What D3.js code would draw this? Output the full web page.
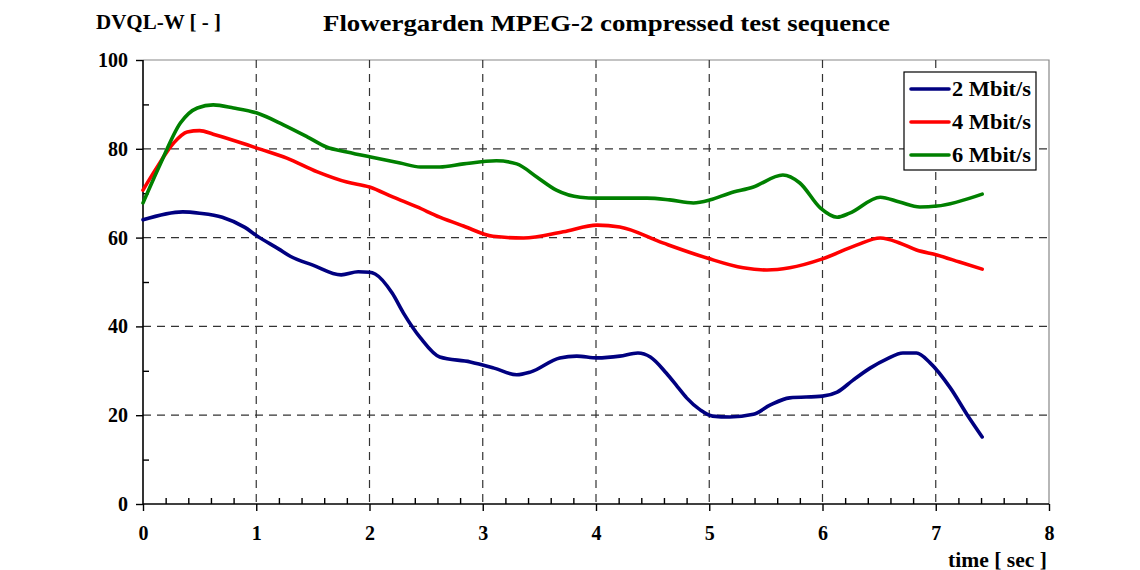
<!DOCTYPE html>
<html>
<head>
<meta charset="utf-8">
<script src="https://cdn.jsdelivr.net/npm/d3@7"></script>
<style>
  body { margin: 0; background: #fff; }
  text { font-family: "Liberation Serif", serif; font-weight: bold; fill: #000; }
</style>
</head>
<body>
<svg id="chart" width="1140" height="570"></svg>
<script>
// values
const tBlue = [0, 0.35, 0.5, 0.7, 0.9, 1.0, 1.2, 1.3, 1.5, 1.75, 1.9, 2.0, 2.05, 2.2, 2.3, 2.45, 2.62, 2.89, 3.1, 3.3, 3.42, 3.68, 3.83, 4.01, 4.21, 4.37, 4.48, 4.62, 4.72, 4.8, 4.92, 5.03, 5.18, 5.39, 5.54, 5.71, 6.0, 6.13, 6.27, 6.42, 6.57, 6.71, 6.83, 6.95, 7.13, 7.28, 7.41];
const blue = [64.0, 65.8, 65.5, 64.6, 62.3, 60.5, 57.4, 55.8, 53.8, 51.6, 52.3, 52.2, 51.8, 47.5, 43.0, 37.4, 33.1, 32.0, 30.6, 29.1, 29.7, 32.9, 33.3, 32.9, 33.3, 34.0, 33.1, 29.5, 26.4, 23.9, 21.2, 19.8, 19.6, 20.2, 22.3, 23.9, 24.3, 25.2, 27.9, 30.6, 32.7, 34.0, 34.0, 31.8, 26.1, 20.0, 15.1];

const tRed = [0, 0.12, 0.27, 0.39, 0.5, 0.62, 0.92, 1.0, 1.27, 1.54, 1.8, 2.0, 2.21, 2.42, 2.62, 2.83, 3.09, 3.36, 3.71, 4.01, 4.21, 4.59, 4.98, 5.3, 5.51, 5.71, 6.0, 6.3, 6.51, 6.68, 6.83, 7.01, 7.21, 7.41];
const red = [70.7, 75.7, 81.3, 83.8, 84.1, 83.3, 80.9, 80.2, 77.9, 74.8, 72.5, 71.4, 69.1, 66.9, 64.6, 62.6, 60.3, 59.9, 61.3, 62.8, 62.4, 58.8, 55.4, 53.2, 52.7, 53.2, 55.2, 58.3, 59.9, 58.8, 57.2, 56.1, 54.5, 52.9];

const tGreen = [0, 0.15, 0.33, 0.48, 0.62, 0.8, 1.0, 1.24, 1.45, 1.62, 1.8, 2.0, 2.27, 2.45, 2.62, 2.83, 3.12, 3.3, 3.48, 3.65, 3.86, 4.01, 4.45, 4.65, 4.86, 5.01, 5.18, 5.39, 5.65, 5.8, 5.98, 6.13, 6.24, 6.51, 6.68, 6.86, 7.01, 7.41];
const green = [67.8, 76.4, 85.8, 89.2, 89.9, 89.2, 88.1, 85.4, 82.7, 80.4, 79.3, 78.2, 76.8, 75.9, 75.9, 76.6, 77.3, 76.6, 73.6, 70.7, 69.1, 68.9, 68.9, 68.5, 67.8, 68.5, 70.0, 71.4, 74.1, 72.3, 66.7, 64.6, 65.5, 69.1, 68.0, 66.9, 67.1, 69.8];

const seriesNames = ["2 Mbit/s", "4 Mbit/s", "6 Mbit/s"];
const seriesColors = ["#000080", "#ff0000", "#008000"];
const xTicks = [0, 1, 2, 3, 4, 5, 6, 7, 8];
const yTicks = [0, 20, 40, 60, 80, 100];

const series = [
    { name: seriesNames[0], color: seriesColors[0], pts: tBlue.map((t, i) => [t, blue[i]]) },
    { name: seriesNames[1], color: seriesColors[1], pts: tRed.map((t, i) => [t, red[i]]) },
    { name: seriesNames[2], color: seriesColors[2], pts: tGreen.map((t, i) => [t, green[i]]) }
];

const svg = d3.select('#chart');
const x = d3.scaleLinear().domain([0, 8]).range([143, 1049]);
const y = d3.scaleLinear().domain([0, 100]).range([504, 60]);

// frame (top and right, grey)
svg.append('path')
    .attr('d', `M${x(0)},${y(100)}H${x(8)}V${y(0)}`)
    .attr('fill', 'none').attr('stroke', '#888').attr('stroke-width', 1.2);

// dashed grid
const grid = svg.append('g').attr('stroke', '#333').attr('stroke-width', 1.2).attr('stroke-dasharray', '8,6');
grid.selectAll('.gx').data(xTicks.filter(d => d > 0 && d < 8)).enter().append('line')
    .attr('x1', d => x(d)).attr('x2', d => x(d)).attr('y1', y(100)).attr('y2', y(0));
grid.selectAll('.gy').data(yTicks.filter(d => d > 0 && d < 100)).enter().append('line')
    .attr('x1', x(0)).attr('x2', x(8)).attr('y1', d => y(d)).attr('y2', d => y(d));

// x axis: major ticks down, minor ticks up
const xAxis = svg.append('g').attr('transform', `translate(0,${y(0)})`)
    .call(d3.axisBottom(x).tickValues(xTicks).tickSize(7).tickPadding(15).tickFormat(d3.format('d')));
xAxis.select('.domain').attr('stroke-width', 1.6).attr('d', `M${x(0)},0H${x(8)}`);
xAxis.selectAll('.tick line').attr('stroke-width', 1.4);
xAxis.selectAll('text').style('font-size', '20px').attr('font-family', null);
svg.append('g').attr('transform', `translate(0,${y(0)})`)
    .call(d3.axisTop(x).tickValues(d3.range(1, 40).map(i => i / 5).filter(v => Math.abs(v - Math.round(v)) > 0.01)).tickSize(6).tickFormat(''))
    .call(g => g.select('.domain').remove())
    .selectAll('line').attr('stroke-width', 1.4);

// y axis: major ticks left, minor ticks right
const yAxis = svg.append('g').attr('transform', `translate(${x(0)},0)`)
    .call(d3.axisLeft(y).tickValues(yTicks).tickSize(7).tickPadding(8));
yAxis.select('.domain').attr('stroke-width', 1.6).attr('d', `M0,${y(100)}V${y(0)}`);
yAxis.selectAll('.tick line').attr('stroke-width', 1.4);
yAxis.selectAll('text').style('font-size', '20px').attr('font-family', null);
svg.append('g').attr('transform', `translate(${x(0)},0)`)
    .call(d3.axisRight(y).tickValues([10, 30, 50, 70, 90]).tickSize(6).tickFormat(''))
    .call(g => g.select('.domain').remove())
    .selectAll('line').attr('stroke-width', 1.4);

// curves
const line = d3.line().x(d => x(d[0])).y(d => y(d[1])).curve(d3.curveMonotoneX);
svg.selectAll('.series').data(series).enter().append('path')
    .attr('d', d => line(d.pts))
    .attr('fill', 'none')
    .attr('stroke', d => d.color)
    .attr('stroke-width', 3.6)
    .attr('stroke-linejoin', 'round')
    .attr('stroke-linecap', 'round');

// legend
const lg = svg.append('g').attr('transform', 'translate(904,72)');
lg.append('rect').attr('width', 132).attr('height', 98)
    .attr('fill', '#fff').attr('stroke', '#000').attr('stroke-width', 1.2);
const item = lg.selectAll('.item').data(series).enter().append('g')
    .attr('transform', (d, i) => `translate(0,${17 + i * 33})`);
item.append('line').attr('x1', 7).attr('x2', 45).attr('y1', 0).attr('y2', 0)
    .attr('stroke', d => d.color).attr('stroke-width', 3.6).attr('stroke-linecap', 'round');
item.append('text').attr('x', 48).attr('y', 7).style('font-size', '20px')
    .attr('textLength', 79).attr('lengthAdjust', 'spacingAndGlyphs').text(d => d.name);

// titles
svg.append('text').attr('x', 323).attr('y', 31)
    .style('font-size', '24px').attr('textLength', 567).attr('lengthAdjust', 'spacingAndGlyphs')
    .text('Flowergarden MPEG-2 compressed test sequence');
svg.append('text').attr('x', 96).attr('y', 29).style('font-size', '20px')
    .attr('textLength', 125).attr('lengthAdjust', 'spacingAndGlyphs').text('DVQL-W [ - ]');
svg.append('text').attr('x', 948).attr('y', 567).style('font-size', '20px')
    .attr('textLength', 99).attr('lengthAdjust', 'spacingAndGlyphs').text('time [ sec ]');
</script>
</body>
</html>
